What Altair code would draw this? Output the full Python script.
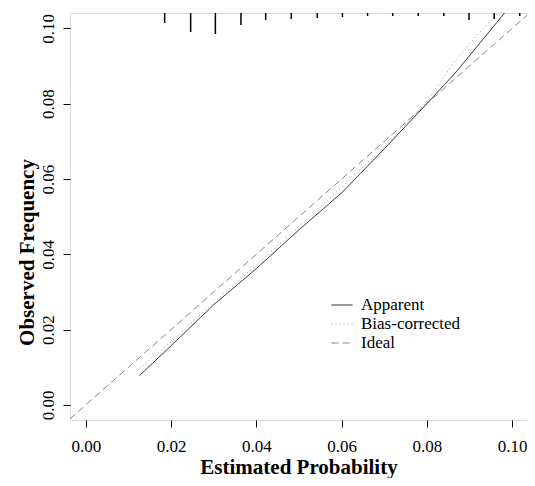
import altair as alt
import pandas as pd

# --- data ---
app_x = [0.0126, 0.02, 0.03, 0.04, 0.05, 0.06, 0.07, 0.08, 0.087, 0.092, 0.0983]
app_y = [0.0078, 0.0157, 0.0266, 0.0362, 0.0465, 0.0563, 0.068, 0.080, 0.0886, 0.0955, 0.1042]
bias_x = [0.0126, 0.02, 0.03, 0.04, 0.05, 0.06, 0.07, 0.08, 0.086, 0.092, 0.097]
bias_y = [0.0097, 0.0168, 0.0272, 0.0372, 0.0474, 0.0578, 0.0685, 0.0805, 0.0905, 0.0985, 0.1044]
rug_p = [0.0185, 0.0246, 0.0304, 0.0364, 0.0422, 0.0482, 0.0543, 0.0602, 0.0661,
         0.0720, 0.0780, 0.0840, 0.0899, 0.0958, 0.1018]
rug_h = [10, 19, 21, 12, 7, 6, 5, 4, 3, 3, 3, 3, 7, 6, 3]

x_dom = [-0.0037, 0.1035]
y_dom = [-0.0040, 0.1041]
ticks = [0.0, 0.02, 0.04, 0.06, 0.08, 0.10]
series = ["Apparent", "Bias-corrected", "Ideal"]

rows = []
for i, (a, b) in enumerate(zip(app_x, app_y)):
    rows.append({"x": a, "y": b, "series": "Apparent", "o": i})
for i, (a, b) in enumerate(zip(bias_x, bias_y)):
    rows.append({"x": a, "y": b, "series": "Bias-corrected", "o": i})
for i, v in enumerate([x_dom[0], x_dom[1]]):
    rows.append({"x": v, "y": v, "series": "Ideal", "o": i})
df = pd.DataFrame(rows)
rug = pd.DataFrame({"p": rug_p, "h": rug_h})

FONT = "Liberation Serif"

xs = alt.Scale(domain=x_dom, nice=False, zero=False)
ys = alt.Scale(domain=y_dom, nice=False, zero=False)

leg = alt.Legend(title=None, orient="none", legendX=261, legendY=281,
                 symbolType="stroke", symbolSize=441, symbolStrokeWidth=1,
                 labelFont=FONT, labelFontSize=17, labelColor="black",
                 labelOffset=8, padding=0, rowPadding=-2)

lines = alt.Chart(df).mark_line(clip=True, strokeWidth=1).encode(
    x=alt.X("x:Q", scale=xs, title="Estimated Probability",
            axis=alt.Axis(values=ticks, format=".2f", domain=False, grid=False,
                          tickSize=7, tickColor="black", labelColor="black",
                          labelFont=FONT, labelFontSize=17, labelBaseline="alphabetic",
                          labelPadding=24, labelFlush=False,
                          titleFont=FONT, titleFontSize=21, titleFontWeight="bold",
                          titleColor="black", titleBaseline="alphabetic",
                          titleY=53)),
    y=alt.Y("y:Q", scale=ys, title="Observed Frequency",
            axis=alt.Axis(values=ticks, format=".2f", domain=False, grid=False,
                          tickSize=7, tickColor="black", labelColor="black",
                          labelFont=FONT, labelFontSize=17, labelAngle=-90,
                          labelAlign="center", labelBaseline="alphabetic",
                          labelPadding=10, labelFlush=False,
                          titleFont=FONT, titleFontSize=21, titleFontWeight="bold",
                          titleColor="black", titleBaseline="alphabetic",
                          titleAngle=-90, titleAlign="center",
                          titleX=-37, titleY=239)),
    color=alt.Color("series:N", scale=alt.Scale(domain=series,
                    range=["#1a1a1a", "#999999", "#888888"]), legend=leg),
    strokeDash=alt.StrokeDash("series:N", scale=alt.Scale(domain=series,
                              range=[[1, 0], [1, 3], [7, 4]]), legend=leg),
    order="o:Q",
)

rugs = alt.Chart(rug).mark_rule(color="black", strokeWidth=1.5).encode(
    x=alt.X("p:Q", scale=xs),
    y=alt.Y("h:Q", scale=alt.Scale(domain=[0, 21], range=[0, 21]), axis=None),
    y2=alt.datum(0),
)

chart = alt.layer(lines, rugs).resolve_scale(y="independent").properties(
    width=457, height=407,
    padding={"left": 62, "top": 5, "right": 0, "bottom": 58},
    autosize=alt.AutoSizeParams(type="none"),
).configure_view(stroke="black", strokeWidth=1).configure(background="white")

chart.save("out.html", embed_options={"renderer": "svg", "actions": False})
